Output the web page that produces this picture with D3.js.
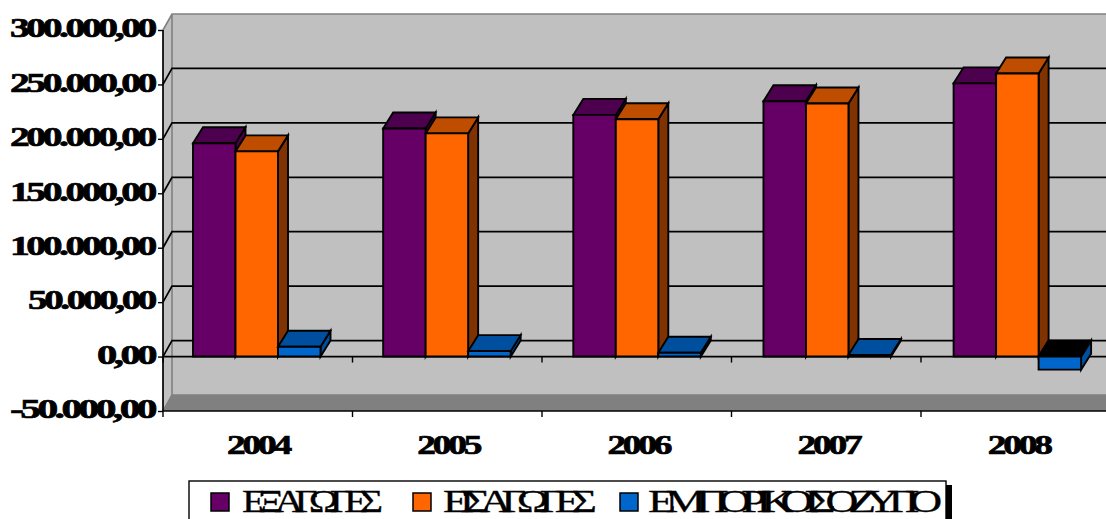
<!DOCTYPE html>
<html><head><meta charset="utf-8">
<script src="https://cdnjs.cloudflare.com/ajax/libs/d3/7.8.5/d3.min.js"></script>
<style>
html,body{margin:0;padding:0;background:#fff;overflow:hidden}
svg{display:block}
text{font-family:"Liberation Serif",serif;fill:#000}
</style></head><body>
<svg id="c" width="1106" height="519"></svg>
<script>
const categories=["2004","2005","2006","2007","2008"];
const exportsVals=[196000,209500,222000,234500,251000];
const importsVals=[188500,205000,218000,232500,260000];
const balanceVals=[9000,5000,3500,1500,-12000];
const yTicks=[-50000,0,50000,100000,150000,200000,250000,300000];
const seriesNames=["ΕΞΑΓΩΓΕΣ","ΕΙΣΑΓΩΓΕΣ","ΕΜΠΟΡΙΚΟ ΙΣΟΖΥΓΙΟ"];
const seriesValues=[exportsVals,importsVals,balanceVals];
const faces=[
 {front:"#660066",top:"#4d004d",side:"#4d004d"},
 {front:"#ff6600",top:"#bf4d00",side:"#803300"},
 {front:"#0066cc",top:"#004f9f",side:"#004f9f"}];

const svg=d3.select("#c");
const W=1106,x0=163,yB=411,yT=30;
const wx=9,wy=-16,bx=10,by=-16;
const y=d3.scaleLinear().domain([-50000,300000]).range([yB,yT]);
const xTick=d3.scaleBand().domain(categories).range([x0,x0+189.5*5]);
const x=d3.scaleBand().domain(categories).range([x0,x0+190.15*5]);
const inner=d3.scaleBand().domain([0,1,2]).range([30,30+127.5]);
const loc=d3.formatLocale({decimal:",",thousands:".",grouping:[3],currency:["",""],minus:"-"});
const fmt=loc.format(",.2f");
const poly=(pts,fill,stroke,sw)=>svg.append("polygon").attr("points",pts.map(p=>p.join(",")).join(" "))
  .attr("fill",fill).attr("stroke",stroke||"none").attr("stroke-width",sw||0).attr("stroke-linejoin","miter");

// walls
poly([[x0+wx,yT+wy],[W+20,yT+wy],[W+20,yB+wy],[x0+wx,yB+wy]],"#c0c0c0");
poly([[x0,yT],[x0+wx,yT+wy],[x0+wx,yB+wy],[x0,yB]],"#c0c0c0");
poly([[x0,yB],[x0+wx,yB+wy],[W+20,yB+wy],[W+20,yB]],"#808080");
svg.append("path").attr("fill","none").attr("stroke","#808080").attr("stroke-width",1.6)
  .attr("d",`M${x0},${yT}L${x0+wx},${yT+wy}L${W+20},${yT+wy}M${x0+wx},${yT+wy}L${x0+wx},${yB+wy}L${W+20},${yB+wy}M${x0+wx},${yB+wy}L${x0},${yB}`);

// gridlines on the walls
yTicks.filter(t=>t>-50000&&t<300000).forEach(t=>{
  svg.append("path").attr("fill","none").attr("stroke","#000").attr("stroke-width",1.7)
   .attr("d",`M${x0},${y(t)}L${x0+wx},${y(t)+wy}L${W+20},${y(t)+wy}`);
});

// zero line of the category axis, with its ticks
const zeroAxis=svg.append("g").attr("transform",`translate(0,${y(0)})`)
  .call(d3.axisBottom(x).tickValues([]).tickSize(0));
zeroAxis.select(".domain").attr("d",`M${x0},0H${W+20}`).attr("stroke","#000").attr("stroke-width",1.7);
categories.forEach((c,i)=>{
  svg.append("line").attr("x1",xTick(c)).attr("x2",xTick(c)).attr("y1",y(0)).attr("y2",y(0)+6).attr("stroke","#000").attr("stroke-width",1.4);
});

// 3D bars
const bw=inner.bandwidth();
categories.forEach((c,i)=>{
  seriesValues.forEach((vals,s)=>{
    const L=x(c)+inner(s),R=L+bw,v=vals[i];
    const t=y(Math.max(v,0)),b=y(Math.min(v,0));
    const k=1.9,col=faces[s];
    const negTop=v<0?"#000":col.top;
    poly([[R,t],[R+bx,t+by],[R+bx,b+by],[R,b]],col.side,"#000",k);
    poly([[L,t],[L+bx,t+by],[R+bx,t+by],[R,t]],negTop,"#000",k);
    poly([[L,t],[R,t],[R,b],[L,b]],col.front,"#000",k);
  });
});

// value axis
const yAxis=svg.append("g").attr("transform",`translate(${x0},0)`)
  .call(d3.axisLeft(y).tickValues(yTicks).tickSize(5).tickPadding(2).tickFormat(fmt));
yAxis.select(".domain").attr("d",`M0,${yT}V${yB}`).attr("stroke","#000").attr("stroke-width",1.7).attr("fill","none");
yAxis.selectAll(".tick line").attr("stroke","#000").attr("stroke-width",1.4);
yAxis.selectAll(".tick text").each(function(d){
  const s=d3.select(this),txt=s.text();
  const w=txt.length===10?144:(txt.length===11?138:(txt.length===9?126:57));
  s.attr("font-family","Liberation Serif").attr("font-weight","bold").attr("font-size",28)
   .style("letter-spacing","-2.4px")
   .attr("x",-9).attr("dy","0.24em").attr("text-anchor","end").attr("stroke","#000").attr("stroke-width",0.7)
   .attr("textLength",w).attr("lengthAdjust","spacingAndGlyphs");
});

// bottom axis
const xAxis=svg.append("g").attr("transform",`translate(0,${yB})`)
  .call(d3.axisBottom(x).tickSize(0).tickPadding(0));
xAxis.select(".domain").attr("d",`M${x0},0H${W+20}`).attr("stroke","#000").attr("stroke-width",1.7);
categories.forEach(c=>{
  svg.append("line").attr("x1",xTick(c)).attr("x2",xTick(c)).attr("y1",yB).attr("y2",yB+6).attr("stroke","#000").attr("stroke-width",1.4);
});
xAxis.selectAll(".tick text")
  .attr("font-family","Liberation Serif").attr("font-weight","bold").attr("font-size",28)
  .style("letter-spacing","-2.4px")
  .attr("y",43).attr("dy",0).attr("stroke","#000").attr("stroke-width",0.7)
  .attr("textLength",62).attr("lengthAdjust","spacingAndGlyphs");

// legend
svg.append("rect").attr("x",946).attr("y",485).attr("width",6).attr("height",40).attr("fill","#000");
svg.append("rect").attr("x",189).attr("y",481).attr("width",757).attr("height",50).attr("fill","#fff").attr("stroke","#000").attr("stroke-width",1.4);
const swX=[211,413,620],txX=[242,443,648],txW=[132,144,284];
seriesNames.forEach((n,i)=>{
  svg.append("rect").attr("x",swX[i]).attr("y",493).attr("width",18).attr("height",18)
    .attr("fill",faces[i].front).attr("stroke","#000").attr("stroke-width",1.5);
  svg.append("text").attr("x",txX[i]).attr("y",512).attr("font-size",31).text(n)
    .style("letter-spacing","-7px")
    .attr("stroke","#000").attr("stroke-width",0.3)
    .attr("textLength",txW[i]).attr("lengthAdjust","spacingAndGlyphs");
});
</script>
</body></html>
